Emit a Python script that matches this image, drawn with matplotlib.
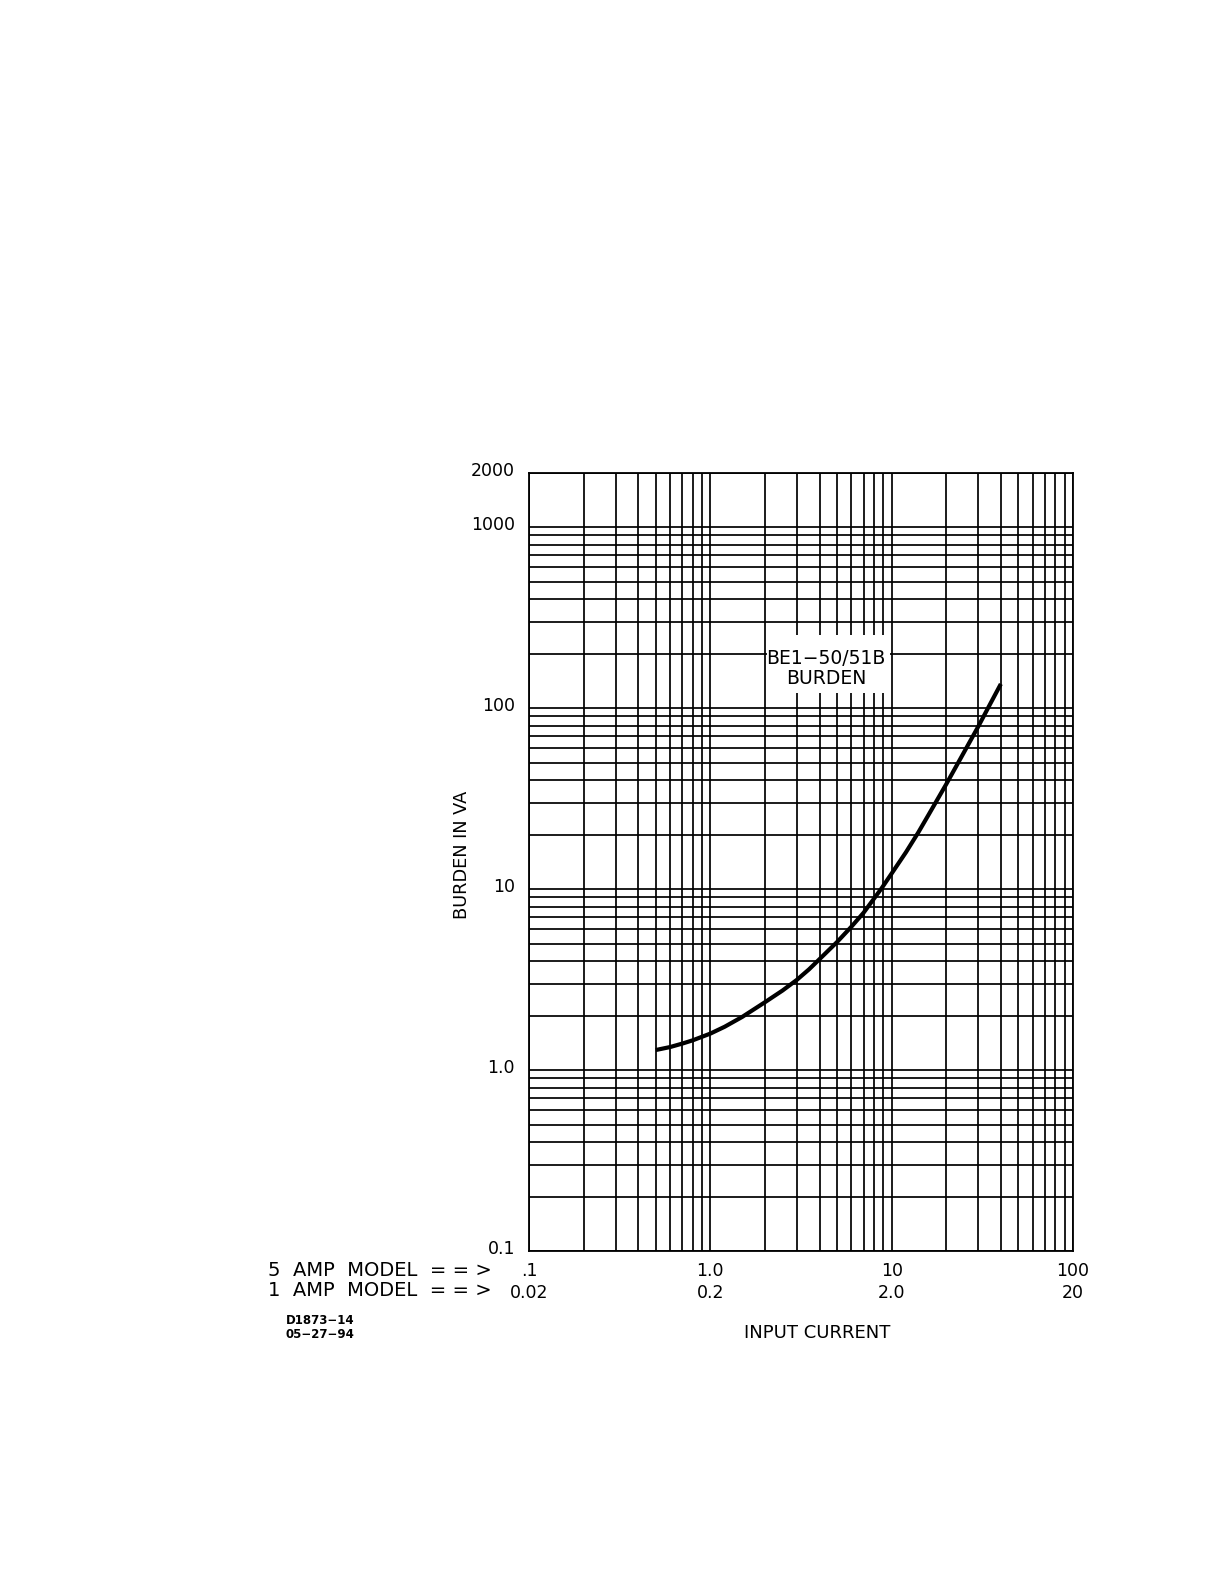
"""BE1-50/51B burden curve: burden in VA against input current, log-log grid."""

import matplotlib

matplotlib.use("Agg")
import matplotlib.pyplot as plt
from matplotlib.patches import Rectangle
from matplotlib.ticker import FixedLocator, LogLocator, NullFormatter
from matplotlib.transforms import ScaledTranslation

# curve (5 amp model current scale)
CURRENT_5A = [0.5, 0.6, 0.7, 0.8, 1.0, 1.2, 1.5, 2.0, 2.5, 3.0, 3.5, 4.0, 5.0, 6.0,
              7.0, 8.0, 8.8, 10, 12, 14, 16, 20, 25, 30, 35, 40]
BURDEN_VA = [1.29, 1.34, 1.40, 1.46, 1.59, 1.735, 1.967, 2.37, 2.75, 3.15, 3.6, 4.1,
             5.1, 6.2, 7.4, 8.87, 10.1, 12.2, 16.0, 20.5, 25.8, 38, 56.8, 79, 105.8, 136]

X_TICKS = [0.1, 1, 10, 100]
X_LABELS_5A = [".1", "1.0", "10", "100"]
X_LABELS_1A = ["0.02", "0.2", "2.0", "20"]

Y_TICKS = [0.1, 1, 10, 100, 1000, 2000]
Y_LABELS = ["0.1", "1.0", "10", "100", "1000", "2000"]

FONT = "DejaVu Sans"
W, H = 1225, 1585

fig = plt.figure(figsize=(W / 100, H / 100), dpi=100)
fig.patch.set_facecolor("white")

# axes box in pixel terms: x 529..1073, y 472..1251
left, right, top, bottom = 529, 1073, 472.7, 1251
ax = fig.add_axes([left / W, 1 - bottom / H, (right - left) / W, (bottom - top) / H])

ax.set_xscale("log")
ax.set_yscale("log")
ax.set_xlim(0.1, 100)
ax.set_ylim(0.1, 2000)

ax.xaxis.set_minor_locator(LogLocator(base=10, subs=range(2, 10), numticks=20))
ax.yaxis.set_minor_locator(LogLocator(base=10, subs=range(2, 10), numticks=20))
ax.xaxis.set_minor_formatter(NullFormatter())
ax.yaxis.set_minor_formatter(NullFormatter())

ax.xaxis.set_major_locator(FixedLocator(X_TICKS))
ax.set_xticklabels([f"{a}\n{b}" for a, b in zip(X_LABELS_5A, X_LABELS_1A)],
                   fontsize=12.5, family=FONT, linespacing=1.3)
ax.yaxis.set_major_locator(FixedLocator(Y_TICKS))
ax.set_yticklabels(Y_LABELS, fontsize=12.5, family=FONT)

ax.tick_params(which="both", length=0)
ax.tick_params(axis="x", pad=8)
ax.tick_params(axis="y", pad=10)

# y labels sit a little above their grid lines in the drawing
lift = ScaledTranslation(0, 4 / 100, fig.dpi_scale_trans)
for lab in ax.get_yticklabels():
    lab.set_transform(lab.get_transform() + lift)

ax.set_axisbelow(True)
ax.grid(which="both", color="black", linewidth=1.25)
for spine in ax.spines.values():
    spine.set_linewidth(1.3)
    spine.set_color("black")

ax.plot(CURRENT_5A, BURDEN_VA, color="black", linewidth=3.0,
        solid_capstyle="butt", solid_joinstyle="round", zorder=3)

# white label patch covering the grid between the 2 and 10 lines
ax.add_patch(Rectangle((2.05, 122), 9.8 - 2.05, 253 - 122, facecolor="white",
                       edgecolor="none", zorder=1.5))
ax.text(4.36, 187, "BE1\u221250/51B", ha="center", va="center",
        fontsize=13.5, family=FONT, zorder=4)
ax.text(4.36, 146, "BURDEN", ha="center", va="center",
        fontsize=13.5, family=FONT, zorder=4)

ax.set_ylabel("BURDEN IN VA", fontsize=12.8, family=FONT)
ax.yaxis.set_label_coords(-0.106, 0.509)
ax.set_xlabel("INPUT CURRENT", fontsize=13, family=FONT, va="center")
ax.xaxis.set_label_coords(0.53, -0.105)

fig.text(492 / W, 1 - 1270 / H, "5  AMP  MODEL  = = >", ha="right", va="center",
         fontsize=14, family=FONT)
fig.text(492 / W, 1 - 1290 / H, "1  AMP  MODEL  = = >", ha="right", va="center",
         fontsize=14, family=FONT)

fig.text(286 / W, 1 - 1320 / H, "D1873\u221214", ha="left", va="center",
         fontsize=8.5, family=FONT, fontweight="bold")
fig.text(286 / W, 1 - 1334 / H, "05\u221227\u221294", ha="left", va="center",
         fontsize=8.5, family=FONT, fontweight="bold")

fig.savefig("out.png", dpi=100, facecolor="white")
